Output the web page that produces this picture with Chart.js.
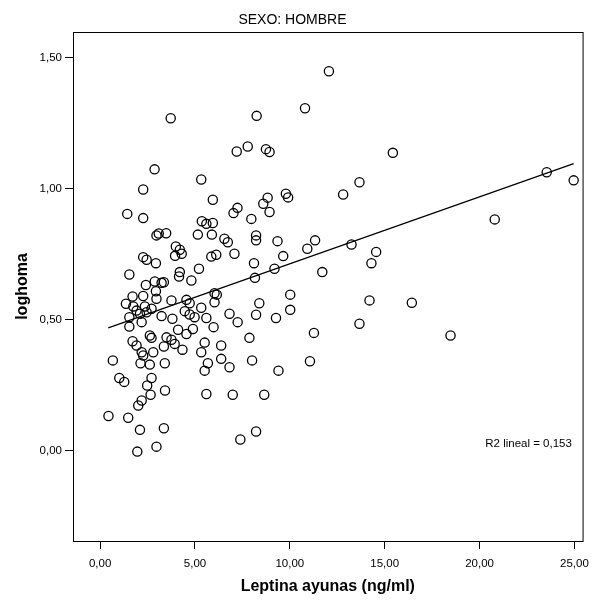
<!DOCTYPE html>
<html lang="es">
<head>
<meta charset="UTF-8">
<title>SEXO: HOMBRE</title>
<script src="https://cdn.jsdelivr.net/npm/chart.js"></script>
<style>
  body { margin: 0; background: #fff; }
  #wrap { width: 597px; height: 600px; }
</style>
</head>
<body>
<div id="wrap"><canvas id="chart" width="597" height="600"></canvas></div>
<script>
// values
const leptina = [
  3.72, 2.87, 5.33, 2.27, 5.94, 1.43, 2.27, 5.36, 5.60, 10.80,
  8.25, 7.20, 7.78, 8.74, 8.93, 7.03, 7.24, 7.97, 8.60, 8.83,
  8.93, 9.79, 9.91, 12.06, 15.43, 13.67, 12.81, 23.54, 24.96, 20.80,
  13.25, 14.55, 14.30, 14.20, 16.43, 13.67, 18.47, 2.97, 3.09, 3.48,
  5.15, 5.89, 3.99, 4.20, 4.30, 3.95, 2.27, 2.45, 2.94, 5.86,
  6.12, 1.54, 4.20, 4.16, 5.21, 4.81, 2.41, 2.88, 3.24, 3.36,
  2.94, 1.71, 2.27, 2.97, 1.36, 1.75, 2.36, 2.71, 2.45, 3.76,
  4.55, 4.72, 1.92, 2.10, 1.54, 3.24, 3.81, 4.46, 4.72, 4.98,
  5.33, 6.03, 6.15, 6.03, 5.60, 2.19, 1.54, 4.89, 4.11, 4.55,
  5.98, 2.62, 2.71, 1.71, 1.92, 3.50, 3.76, 3.93, 3.36, 5.51,
  6.55, 6.73, 8.22, 8.22, 9.35, 11.33, 10.92, 7.08, 9.65, 8.11,
  9.19, 11.71, 8.16, 10.02, 8.39, 10.02, 6.82, 7.25, 8.22, 9.27,
  11.27, 7.87, 6.38, 2.19, 2.27, 2.80, 4.34, 5.33, 5.68, 5.51,
  6.38, 0.67, 2.13, 2.62, 3.41, 1.01, 1.27, 2.71, 2.48, 3.42,
  5.60, 2.66, 2.19, 2.01, 0.44, 1.48, 3.36, 2.10, 2.97, 1.96,
  6.82, 8.01, 9.40, 11.06, 6.99, 8.65, 8.22, 7.39, 5.94
];
const loghoma = [
  1.268, 1.073, 1.034, 0.996, 0.957, 0.903, 0.887, 0.875, 0.865, 1.306,
  1.277, 1.141, 1.160, 1.150, 1.139, 0.906, 0.926, 0.884, 0.942, 0.965,
  0.910, 0.980, 0.966, 1.447, 1.136, 1.024, 0.977, 1.062, 1.031, 0.882,
  0.786, 0.758, 0.715, 0.573, 0.564, 0.484, 0.439, 0.821, 0.828, 0.829,
  0.824, 0.824, 0.779, 0.766, 0.751, 0.743, 0.738, 0.728, 0.715, 0.740,
  0.747, 0.672, 0.681, 0.664, 0.694, 0.649, 0.632, 0.645, 0.640, 0.642,
  0.608, 0.588, 0.590, 0.579, 0.560, 0.550, 0.550, 0.541, 0.528, 0.573,
  0.575, 0.562, 0.534, 0.522, 0.509, 0.513, 0.503, 0.532, 0.519, 0.509,
  0.545, 0.600, 0.595, 0.566, 0.506, 0.490, 0.473, 0.464, 0.461, 0.445,
  0.471, 0.439, 0.430, 0.417, 0.401, 0.432, 0.423, 0.407, 0.397, 0.412,
  0.808, 0.795, 0.821, 0.802, 0.799, 0.802, 0.770, 0.751, 0.742, 0.715,
  0.694, 0.681, 0.659, 0.595, 0.562, 0.537, 0.522, 0.490, 0.518, 0.506,
  0.449, 0.430, 0.401, 0.375, 0.363, 0.375, 0.385, 0.375, 0.333, 0.305,
  0.350, 0.344, 0.333, 0.328, 0.333, 0.277, 0.262, 0.277, 0.248, 0.229,
  0.216, 0.213, 0.191, 0.172, 0.132, 0.125, 0.085, 0.079, 0.015, -0.004,
  0.318, 0.344, 0.305, 0.341, 0.213, 0.213, 0.073, 0.042, 0.868
];
// fit line ends as drawn in the picture
const fitX = [0.43, 24.96];
const fitY = [0.468, 1.095];
const r2Text = "R2 lineal = 0,153";

const xTicks = [0, 5, 10, 15, 20, 25];
const yTicks = [0, 0.5, 1, 1.5];

const fmt = v => v.toFixed(2).replace(".", ",");

// frame round the plot area + R2 label
const framePlugin = {
  id: "frame",
  afterDatasetsDraw(chart) {
    const { ctx, chartArea: a, scales } = chart;
    ctx.save();
    ctx.strokeStyle = "#000";
    ctx.lineWidth = 1;
    ctx.strokeRect(a.left + 0.5, a.top + 0.5, a.right - a.left, a.bottom - a.top);
    ctx.fillStyle = "#000";
    ctx.font = "11.5px 'Liberation Sans', Arial, sans-serif";
    ctx.textBaseline = "middle";
    ctx.fillText(r2Text, scales.x.getPixelForValue(20.3), scales.y.getPixelForValue(0.027));
    ctx.restore();
  }
};

const tickFont = { family: "'Liberation Sans', Arial, sans-serif", size: 11.5 };
const titleFont = { family: "'Liberation Sans', Arial, sans-serif", size: 16, weight: "bold" };

new Chart(document.getElementById("chart"), {
  type: "scatter",
  data: {
    datasets: [{
      data: leptina.map((x, i) => ({ x: x, y: loghoma[i] })),
      pointStyle: "circle",
      pointRadius: 4.6,
      pointBorderWidth: 1.3,
      borderColor: "#000",
      backgroundColor: "rgba(0,0,0,0)"
    }, {
      data: fitX.map((x, i) => ({ x: x, y: fitY[i] })),
      showLine: true,
      borderColor: "#000",
      borderWidth: 1.2,
      pointRadius: 0
    }]
  },
  options: {
    responsive: false,
    animation: false,
    devicePixelRatio: 1,
    layout: { padding: { left: 0, right: 12, top: 0, bottom: 0 } },
    plugins: {
      legend: { display: false },
      tooltip: { enabled: false },
      title: {
        display: true,
        text: "SEXO: HOMBRE",
        color: "#000",
        font: { family: "'Liberation Sans', Arial, sans-serif", size: 14, weight: "normal" },
        padding: { top: 11.6, bottom: 3.6 }
      }
    },
    scales: {
      x: {
        type: "linear",
        min: -1.43,
        max: 25.43,
        afterBuildTicks: s => { s.ticks = xTicks.map(v => ({ value: v })); },
        afterFit: s => { s.height = 59; },
        ticks: { color: "#000", font: tickFont, padding: 8, callback: v => fmt(v) },
        grid: { drawOnChartArea: false, drawTicks: true, tickLength: 8, color: "#000" },
        border: { display: false },
        title: {
          display: true,
          text: "Leptina ayunas (ng/ml)",
          color: "#000",
          font: titleFont,
          padding: { top: 0, bottom: 4 }
        }
      },
      y: {
        type: "linear",
        min: -0.345,
        max: 1.597,
        afterBuildTicks: s => { s.ticks = yTicks.map(v => ({ value: v })); },
        afterFit: s => { s.width = 73; },
        ticks: { color: "#000", font: tickFont, padding: 3, callback: v => fmt(v) },
        grid: { drawOnChartArea: false, drawTicks: true, tickLength: 8, color: "#000" },
        border: { display: false },
        title: {
          display: true,
          text: "loghoma",
          color: "#000",
          font: titleFont,
          padding: { top: 13, bottom: 0 }
        }
      }
    }
  },
  plugins: [framePlugin]
});
</script>
</body>
</html>
